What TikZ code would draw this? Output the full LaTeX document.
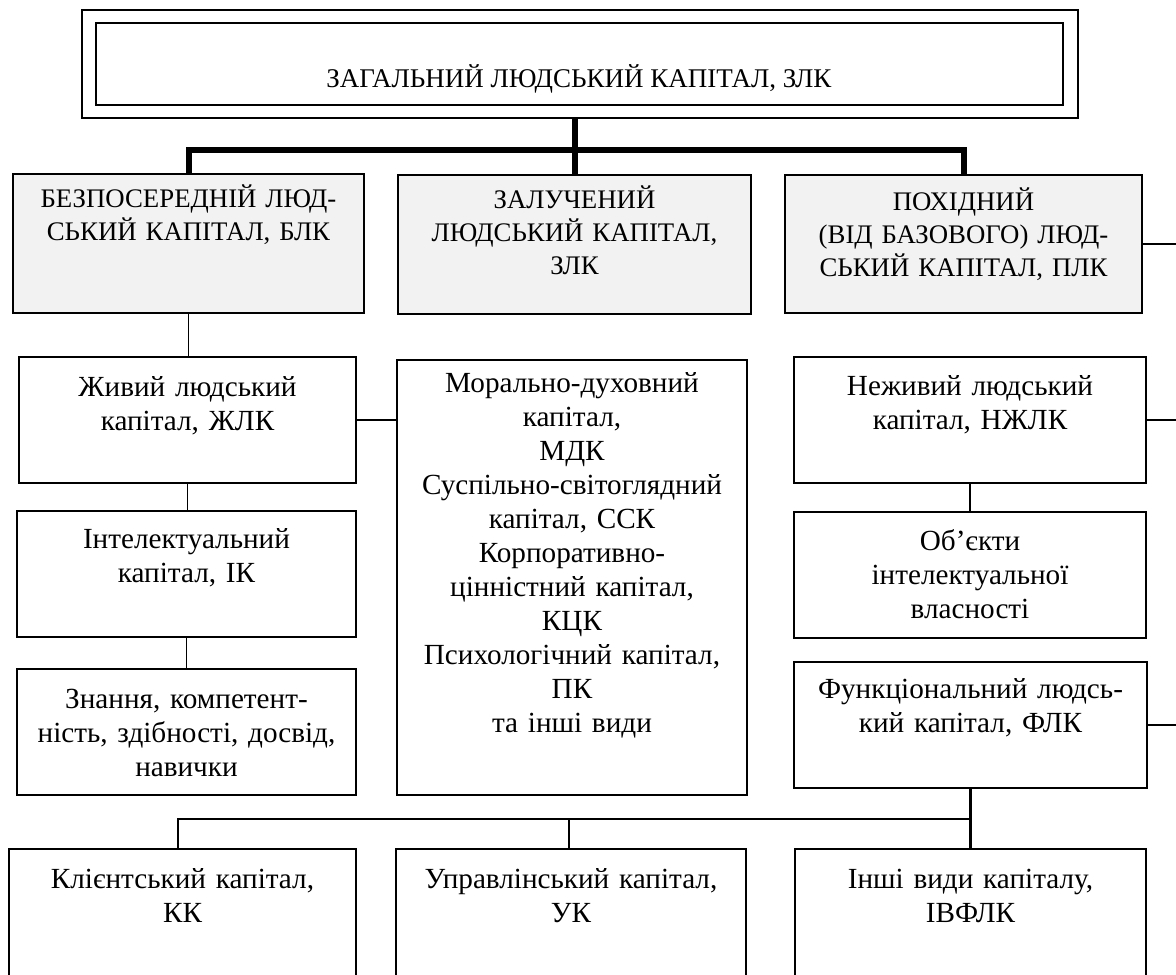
\documentclass[tikz,border=0pt]{standalone}
\usepackage{fontspec}
\setmainfont{Liberation Serif}
\definecolor{boxgray}{HTML}{F2F2F2}
\tikzset{
  box/.style={draw, line width=1.4pt, rectangle, inner sep=0pt, fill=white},
  gbox/.style={box, fill=boxgray},
  txt/.style={font=\fontsize{14.6}{17}\selectfont, align=center, text width=178pt, anchor=base, inner sep=0pt},
  captxt/.style={txt, font=\fontsize{13.4}{16.5}\selectfont},
  titletxt/.style={font=\fontsize{13.5}{16.5}\selectfont, anchor=base, inner sep=0pt},
  heavy/.style={line width=3pt, line join=miter},
  midline/.style={line width=1.3pt},
  fineline/.style={line width=0.7pt}
}
\begin{document}
\begin{tikzpicture}[x=0.5pt, y=-0.5pt]
\useasboundingbox (0,0) rectangle (1176,974);
% title
\node[box, minimum width=498pt, minimum height=54pt] (ttl) at (580,64) {};
\node[box, minimum width=483.5pt, minimum height=41pt] (ttlin) at (579.5,64) {};
\node[titletxt] (ttl-t) at (579,88) {ЗАГАЛЬНИЙ ЛЮДСЬКИЙ КАПІТАЛ, ЗЛК};
% level 1
\node[gbox, minimum width=175.5pt, minimum height=69.5pt] (blk) at (188.5,243.5) {};
\node[gbox, minimum width=176.5pt, minimum height=69.5pt] (zlk) at (574.5,244.5) {};
\node[gbox, minimum width=178.5pt, minimum height=69pt] (plk) at (963.5,244) {};
\node[captxt] (blk-t) at (188.5,207) {БЕЗПОСЕРЕДНІЙ ЛЮД-\\СЬКИЙ КАПІТАЛ, БЛК};
\node[captxt] (zlk-t) at (574.5,208) {ЗАЛУЧЕНИЙ\\ЛЮДСЬКИЙ КАПІТАЛ,\\ЗЛК};
\node[captxt] (plk-t) at (963.5,210) {ПОХІДНИЙ\\(ВІД БАЗОВОГО) ЛЮД-\\СЬКИЙ КАПІТАЛ, ПЛК};
% left column
\node[box, minimum width=168.5pt, minimum height=63pt] (zhlk) at (187.5,420) {};
\node[txt] (zhlk-t) at (187.5,396) {Живий людський\\капітал, ЖЛК};
\node[box, minimum width=169.5pt, minimum height=63pt] (ik) at (186.5,574) {};
\node[txt] (ik-t) at (186.5,548) {Інтелектуальний\\капітал, ІК};
\node[box, minimum width=169.5pt, minimum height=63pt] (zn) at (186.5,732) {};
\node[txt] (zn-t) at (186.5,708) {Знання, компетент-\\ність, здібності, досвід,\\навички};
% middle column
\node[box, minimum width=175pt, minimum height=217.5pt] (mdk) at (572,577.5) {};
\node[txt] (mdk-t) at (572,392) {Морально-духовний\\капітал,\\МДК\\Суспільно-світоглядний\\капітал, ССК\\Корпоративно-\\цінністний капітал,\\КЦК\\Психологічний капітал,\\ПК\\та інші види};
% right column
\node[box, minimum width=176pt, minimum height=63pt] (nzh) at (970,420) {};
\node[txt] (nzh-t) at (970,395) {Неживий людський\\капітал, НЖЛК};
\node[box, minimum width=176pt, minimum height=63pt] (ob) at (970,575) {};
\node[txt] (ob-t) at (970,550) {Об’єкти\\інтелектуальної\\власності};
\node[box, minimum width=176.5pt, minimum height=63pt] (flk) at (970.5,725) {};
\node[txt] (flk-t) at (970.5,698) {Функціональний людсь-\\кий капітал, ФЛК};
% bottom row
\node[box, minimum width=173.5pt, minimum height=75.5pt] (kk) at (182.5,924.5) {};
\node[txt] (kk-t) at (182.5,888) {Клієнтський капітал,\\КК};
\node[box, minimum width=175pt, minimum height=75.5pt] (uk) at (571,924.5) {};
\node[txt] (uk-t) at (571,888) {Управлінський капітал,\\УК};
\node[box, minimum width=175.5pt, minimum height=75.5pt] (ivf) at (970.5,924.5) {};
\node[txt] (ivf-t) at (970.5,888) {Інші види капіталу,\\ІВФЛК};
% connectors
\coordinate (bar) at (0,150);
\coordinate (rim) at (1190,0);
\coordinate (bus) at (178,819);
\coordinate (busm) at (569,819);
\draw[heavy] (zlk.north) -- (zlk.north |- ttl.south);
\draw[heavy] (blk.north) -- (blk.north |- bar) -- (plk.north |- bar) -- (plk.north);
\draw[fineline] (blk.south) -- (blk.south |- zhlk.north);
\draw[midline] (zhlk.east) -- (mdk.west |- zhlk.east);
\draw[fineline] (zhlk.south) -- (zhlk.south |- ik.north);
\draw[fineline] (ik.south) -- (ik.south |- zn.north);
\draw[fineline] (plk.east) -- (plk.east -| rim);
\draw[fineline] (nzh.east) -- (nzh.east -| rim);
\draw[fineline] (nzh.south) -- (nzh.south |- ob.north);
\draw[fineline] (flk.east) -- (flk.east -| rim);
\draw[midline] (flk.south) -- (flk.south |- ivf.north);
\draw[midline] (flk.south |- bus) -- (bus) -- (bus |- kk.north);
\draw[midline] (busm) -- (busm |- uk.north);
\end{tikzpicture}
\end{document}
